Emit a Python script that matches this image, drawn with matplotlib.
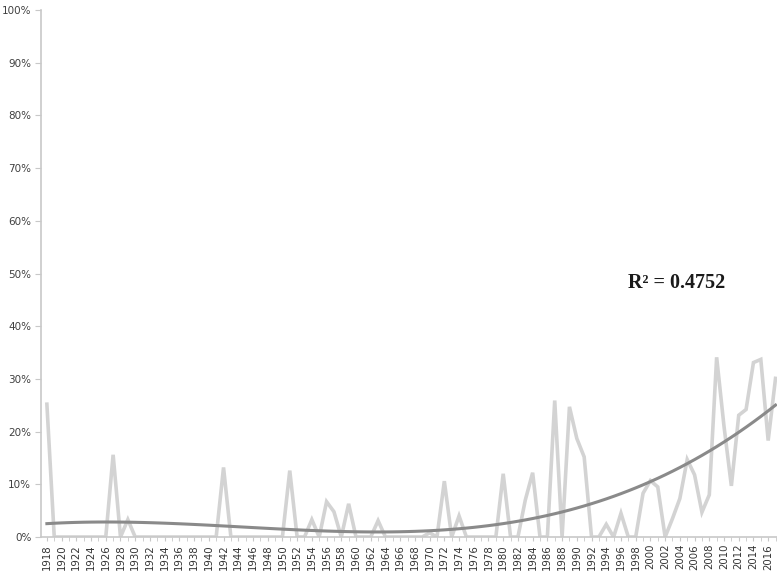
import numpy as np
import matplotlib
matplotlib.use("Agg")
import matplotlib.pyplot as plt
from matplotlib.ticker import MultipleLocator, FuncFormatter

# yearly share (%)
years = list(range(1918, 2018))
share = [
    25.2, 0, 0, 0, 0, 0, 0, 0, 0, 15.6,      # 1918-1927
    0, 3.3, 0, 0, 0, 0, 0, 0, 0, 0,          # 1928-1937
    0, 0, 0, 0, 13.2, 0, 0, 0, 0, 0,         # 1938-1947
    0, 0, 0, 12.6, 0, 0, 3.3, 0, 6.7, 4.8,   # 1948-1957
    0, 6.3, 0, 0, 0, 3.1, 0, 0, 0, 0,        # 1958-1967
    0, 0, 0.8, 0, 10.6, 0, 4.0, 0, 0, 0,     # 1968-1977
    0, 0, 12.0, 0, 0, 7.0, 12.2, 0, 0, 25.9, # 1978-1987
    0, 24.7, 18.7, 15.2, 0, 0, 2.4, 0, 4.5, 0,   # 1988-1997
    0, 8.3, 10.7, 9.5, 0, 3.5, 7.3, 14.7, 11.8, 4.7,  # 1998-2007
    8.0, 34.1, 21.0, 9.7, 23.1, 24.2, 33.1, 33.7, 18.3, 30.1,  # 2008-2017
]
r2_label = "R\u00b2 = 0.4752"

x = np.array(years, dtype=float)
y = np.array(share, dtype=float)

# polynomial trendline (order 3) fitted to the series
coef = np.polyfit(x - 1967, y, 3)
trend = np.polyval(coef, x - 1967)

fig = plt.figure(figsize=(7.77, 5.71), dpi=100)
ax = fig.add_axes([41 / 777, 34 / 571, 736 / 777, 527 / 571])

ax.plot(x, y, color="#d3d3d3", lw=2.6, solid_joinstyle="miter", zorder=2)
ax.plot(x, trend, color="#8a8a8a", lw=2.2, zorder=3)

ax.set_xlim(1917.2, 2017.2)
ax.set_ylim(0, 100)

ax.xaxis.set_minor_locator(MultipleLocator(1))
ax.set_xticks(range(1918, 2018, 2))
ax.yaxis.set_major_locator(MultipleLocator(10))
ax.yaxis.set_major_formatter(FuncFormatter(lambda v, p: f"{int(v)}%"))

for lab in ax.get_xticklabels():
    lab.set_rotation(90)
ax.tick_params(axis="x", which="both", length=3, color="#c8c8c8",
               labelsize=7.3, labelcolor="#333333", pad=2)
ax.tick_params(axis="y", length=4, color="#c8c8c8",
               labelsize=7.5, labelcolor="#404040", pad=3)

for side in ("top", "right"):
    ax.spines[side].set_visible(False)
for side in ("left", "bottom"):
    ax.spines[side].set_color("#c8c8c8")
    ax.spines[side].set_linewidth(1.2)

ax.text(2003.6, 48.2, r2_label, fontsize=14.5, fontweight="bold",
        family="Liberation Serif", color="#1a1a1a", ha="center", va="center")

fig.savefig("out.png", dpi=100)
